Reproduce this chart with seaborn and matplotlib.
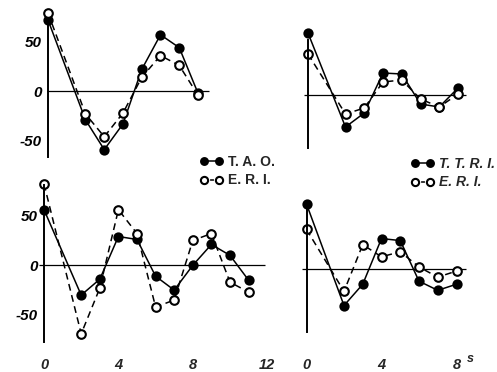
import numpy as np
import pandas as pd
import matplotlib
matplotlib.use("Agg")
import matplotlib.pyplot as plt
from matplotlib.lines import Line2D
import seaborn as sns

# Time steps (s) and responses for each panel
t_top = [0, 2, 3, 4, 5, 6, 7, 8]
tao_top = [72, -29, -59, -33, 22, 57, 44, -2]
eri_top_left = [79, -23, -46, -22, 14, 36, 26, -4]
ttri_top = [62, -32, -18, 22, 21, -9, -12, 7]
eri_top_right = [41, -19, -13, 13, 15, -4, -12, 1]

t_bottom_left = [0, 2, 3, 4, 5, 6, 7, 8, 9, 10, 11]
tao_bottom = [56, -30, -14, 29, 26, -11, -25, 0, 21, 10, -15]
eri_bottom_left = [82, -69, -23, 56, 32, -42, -35, 25, 32, -17, -27]

t_bottom_right = [0, 2, 3, 4, 5, 6, 7, 8]
ttri_bottom = [64, -36, -15, 30, 28, -12, -21, -15]
eri_bottom_right = [39, -22, 24, 12, 17, 2, -8, -2]

y_ticks = [-50, 0, 50]
y_tick_labels = ["-50", "0", "50"]
x_ticks_left = [0, 4, 8, 12]
x_ticks_right = [0, 4, 8]

sns.set_style("white")
plt.rcParams["font.family"] = ["Liberation Sans", "DejaVu Sans"]
plt.rcParams["axes.unicode_minus"] = False

W, H = 497, 372
fig = plt.figure(figsize=(W / 100, H / 100), dpi=100)
fig.patch.set_facecolor("white")

Y_FONT = dict(fontsize=11, fontweight="bold", fontstyle="italic")
X_FONT = dict(fontsize=10.5, fontweight="bold", fontstyle="italic")

SOLID = dict(color="black", linewidth=1.1, marker="o", markerfacecolor="black",
             markeredgecolor="black", markeredgewidth=1.2, linestyle="-")
DASHED = dict(color="black", linewidth=1.1, marker="o", markerfacecolor="white",
              markeredgecolor="black", markeredgewidth=1.5, linestyle=(0, (4.5, 3)))


def panel(box, x0, xs, y0, ys):
    """Axes placed by a pixel box; x0/y0 = pixel of the data origin, xs/ys = pixels per unit."""
    left, top, right, bottom = box
    ax = fig.add_axes([left / W, 1 - bottom / H, (right - left) / W, (bottom - top) / H])
    ax.set_xlim((left - x0) / xs, (right - x0) / xs)
    ax.set_ylim((y0 - bottom) / ys, (y0 - top) / ys)
    ax.patch.set_visible(False)
    for s in ("top", "right", "bottom"):
        ax.spines[s].set_visible(False)
    ax.spines["left"].set_position(("data", 0))
    ax.spines["left"].set_linewidth(1.4)
    ax.spines["left"].set_color("black")
    ax.tick_params(axis="y", direction="out", length=3, width=1.0, pad=1.5, colors="black")
    ax.tick_params(axis="x", length=0, pad=2)
    return ax


def draw_pair(ax, t, solid, dashed):
    sns.lineplot(x=t, y=solid, ax=ax, markersize=6.2, errorbar=None, **SOLID)
    sns.lineplot(x=t, y=dashed, ax=ax, markersize=6.2, errorbar=None, **DASHED)
    ax.set_xlabel("")
    ax.set_ylabel("")


# top-left: T.A.O. vs E.R.I.
ax1 = panel((0, 0, 250, 175), 48, 18.75, 91.2, 0.99)
ax1.hlines(0, -0.05, 8.6, color="black", linewidth=0.9)
ax1.spines["left"].set_bounds(-66.5, 74)
draw_pair(ax1, t_top, tao_top, eri_top_left)
ax1.set_yticks(y_ticks, y_tick_labels, **Y_FONT)
ax1.set_xticks([])

# top-right: T.T.R.I. vs E.R.I.
ax2 = panel((255, 0, 497, 175), 308, 18.75, 95, 1.0)
ax2.hlines(0, -0.2, 8.4, color="black", linewidth=0.9)
ax2.spines["left"].set_bounds(-53, 55)
draw_pair(ax2, t_top, ttri_top, eri_top_right)
ax2.set_yticks([-50, 50], ["", ""])
ax2.set_xticks([])

# bottom-left
ax3 = panel((0, 178, 270, 355), 44, 18.6, 265.3, 0.993)
ax3.hlines(0, -0.27, 11.9, color="black", linewidth=0.9)
ax3.spines["left"].set_bounds(-77, 81)
draw_pair(ax3, t_bottom_left, tao_bottom, eri_bottom_left)
ax3.set_yticks(y_ticks, y_tick_labels, **Y_FONT)
ax3.set_xticks(x_ticks_left, [str(v) for v in x_ticks_left], **X_FONT)

# bottom-right
ax4 = panel((275, 178, 497, 355), 306.5, 18.75, 269, 1.015)
ax4.hlines(0, -0.24, 8.5, color="black", linewidth=0.9)
ax4.spines["left"].set_bounds(-62, 60)
draw_pair(ax4, t_bottom_right, ttri_bottom, eri_bottom_right)
ax4.set_yticks([-50, 50], ["", ""])
ax4.set_xticks(x_ticks_right, [str(v) for v in x_ticks_right], **X_FONT)
ax4.text(8.75, -0.02, "s", transform=ax4.get_xaxis_transform(), ha="center", va="center",
         fontsize=9, fontweight="bold", fontstyle="italic")

# legends with slightly smaller key markers
key_solid = Line2D([], [], markersize=5.2, **SOLID)
key_dashed = Line2D([], [], markersize=5.2, **{**DASHED, "linestyle": (0, (2.5, 1.5))})
leg_kw = dict(loc="center left", frameon=False, numpoints=2, handlelength=1.7,
              handletextpad=0.3, labelspacing=0.35, borderaxespad=0, borderpad=0)
fig.legend([key_solid, key_dashed], ["T. A. O.", "E. R. I."],
           bbox_to_anchor=(200 / W, 1 - 171 / H),
           prop=dict(family="Liberation Sans", weight="bold", size=10), **leg_kw)
fig.legend([key_solid, key_dashed], ["T. T. R. I.", "E. R. I."],
           bbox_to_anchor=(411 / W, 1 - 173 / H),
           prop=dict(family="Liberation Sans", weight="bold", style="italic", size=10), **leg_kw)

fig.savefig("out.png", dpi=100, facecolor="white")
